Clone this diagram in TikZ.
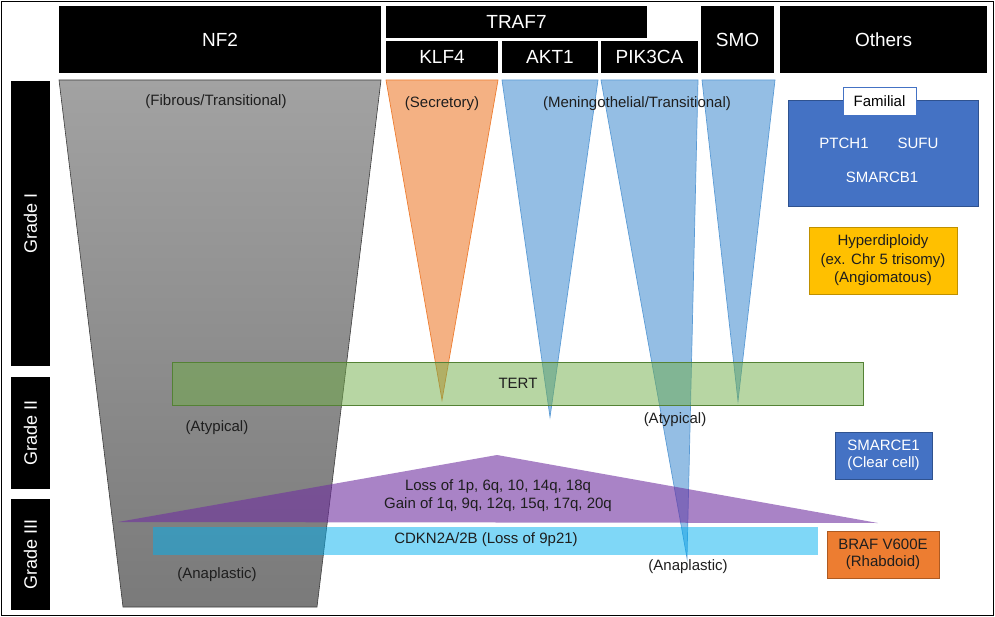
\documentclass[tikz,border=0pt]{standalone}
\usepackage{fontspec}
\setmainfont{Liberation Sans}
\definecolor{nfTop}{RGB}{162,162,162}
\definecolor{nfBot}{RGB}{122,122,122}
\definecolor{nfEdge}{RGB}{60,60,60}
\definecolor{oBlue}{RGB}{68,114,196}
\definecolor{oBlueDk}{RGB}{47,82,143}
\definecolor{tBlue}{RGB}{91,155,213}
\definecolor{oOrange}{RGB}{237,125,49}
\definecolor{oOrangeDk}{RGB}{174,90,33}
\definecolor{oGreen}{RGB}{112,173,71}
\definecolor{oGreenDk}{RGB}{84,130,53}
\definecolor{oPurple}{RGB}{112,48,160}
\definecolor{oCyan}{RGB}{0,176,240}
\definecolor{oGold}{RGB}{255,192,0}
\definecolor{oGoldDk}{RGB}{191,144,0}
\definecolor{txt}{RGB}{30,30,30}
\begin{document}
\begin{tikzpicture}[x=1pt,y=-1pt,
  hdr/.style={fill=black, text=white, font=\fontsize{19}{22}\selectfont, inner sep=0pt, anchor=center},
  grade/.style={fill=black, text=white, font=\fontsize{18}{21}\selectfont, rotate=90, inner sep=0pt, minimum height=39pt, anchor=center},
  lbl/.style={text=txt, font=\fontsize{15}{18}\selectfont, inner sep=0pt, align=center},
  wlbl/.style={text=white, font=\fontsize{15}{18}\selectfont, inner sep=0pt, align=center},
  tri/.style={fill=tBlue, fill opacity=0.65, draw=tBlue, line width=0.7pt},
  boxc/.style={inner sep=0pt, line width=0.9pt, anchor=center}
]
\useasboundingbox (0,0) rectangle (995,617);
\draw[line width=1.2pt] (1.5,1.5) rectangle (993.5,615.5);

% headers
\node[hdr, minimum width=322pt, minimum height=67pt] (nf2) at (220,39.5) {NF2};
\node[hdr, minimum width=261pt, minimum height=32pt] (traf7) at (516.5,22) {TRAF7};
\node[hdr, minimum width=112pt, minimum height=32pt] (klf4) at (442,57) {KLF4};
\node[hdr, minimum width=96pt, minimum height=32pt] (akt1) at (550,57) {AKT1};
\node[hdr, minimum width=97pt, minimum height=32pt] (pik3ca) at (649.5,57) {PIK3CA};
\node[hdr, minimum width=73pt, minimum height=67pt] (smo) at (737.5,39.5) {SMO};
\node[hdr, minimum width=207pt, minimum height=67pt] (others) at (883.5,39.5) {Others};

% grades
\node[grade, minimum width=285pt] (g1) at (30.5,223.5) {Grade I};
\node[grade, minimum width=112pt] (g2) at (30.5,433) {Grade II};
\node[grade, minimum width=111pt] (g3) at (30.5,554.5) {Grade III};

% NF2 trapezoid
\shade[top color=nfTop, bottom color=nfBot] (59,80) -- (381,80) -- (317,607) -- (123,607) -- cycle;
\draw[nfEdge, line width=0.6pt] (59,80) -- (381,80) -- (317,607) -- (123,607) -- cycle;

% triangles
\path[fill=oOrange, fill opacity=0.6, draw=oOrange, line width=0.7pt] (386,80) -- (498,80) -- (442,400) -- cycle;
\path[tri] (502,80) -- (598,80) -- (550,417) -- cycle;
\path[tri] (601,80) -- (698,80) -- (687,558) -- cycle;
\path[tri] (702,80) -- (775,80) -- (738,401) -- cycle;

% TERT
\node[boxc, draw=oGreenDk, fill=oGreen, fill opacity=0.5, text opacity=1, minimum width=691pt, minimum height=43pt] (tert) at (517.5,383.5) {};
\node[lbl] (tertl) at (518,383) {TERT};

% purple triangle
\path[fill=oPurple, fill opacity=0.6] (118,522) -- (497,455) -- (878,523) -- cycle;
\node[lbl] (cnv) at (498,496) {Loss of 1p, 6q, 10, 14q, 18q\\Gain of 1q, 9q, 12q, 15q, 17q, 20q};

% CDKN2A bar
\node[boxc, fill=oCyan, fill opacity=0.5, minimum width=665pt, minimum height=28pt] (cdkn) at (485.5,541) {};
\node[lbl] (cdknl) at (486,540) {CDKN2A/2B (Loss of 9p21)};

% labels
\node[lbl] (fib) at (216,102) {(Fibrous/Transitional)};
\node[lbl] (sec) at (442,104) {(Secretory)};
\node[lbl] (men) at (637,104) {(Meningothelial/Transitional)};
\node[lbl] (aty1) at (217,428) {(Atypical)};
\node[lbl] (aty2) at (675,420) {(Atypical)};
\node[lbl] (ana1) at (217,575) {(Anaplastic)};
\node[lbl] (ana2) at (688,567) {(Anaplastic)};

% Others column
\node[boxc, fill=oBlue, draw=oBlueDk, minimum width=190pt, minimum height=106pt] (fam) at (883,153) {};
\node[boxc, fill=white, draw=oBlue, minimum width=73pt, minimum height=28pt, text=black, font=\fontsize{15}{18}\selectfont] (faml) at (879.5,101) {Familial};
\node[wlbl] (ptch) at (844,143) {PTCH1};
\node[wlbl] (sufu) at (918,143) {SUFU};
\node[wlbl] (smarcb) at (882,177) {SMARCB1};

\node[boxc, fill=oGold, draw=oGoldDk, minimum width=148pt, minimum height=67pt, text=txt, font=\fontsize{15}{18.5}\selectfont, align=center] (hyp) at (883,260.5) {Hyperdiploidy\\(ex. Chr 5 trisomy)\\(Angiomatous)};
\node[boxc, fill=oBlue, draw=oBlueDk, minimum width=97pt, minimum height=47pt, text=white, font=\fontsize{15}{17.5}\selectfont, align=center] (smarce) at (883.5,455.5) {SMARCE1\\(Clear cell)};
\node[boxc, fill=oOrange, draw=oOrangeDk, minimum width=112pt, minimum height=47pt, text=txt, font=\fontsize{15}{17.5}\selectfont, align=center] (braf) at (883,554.5) {BRAF V600E\\(Rhabdoid)};
\end{tikzpicture}
\end{document}
